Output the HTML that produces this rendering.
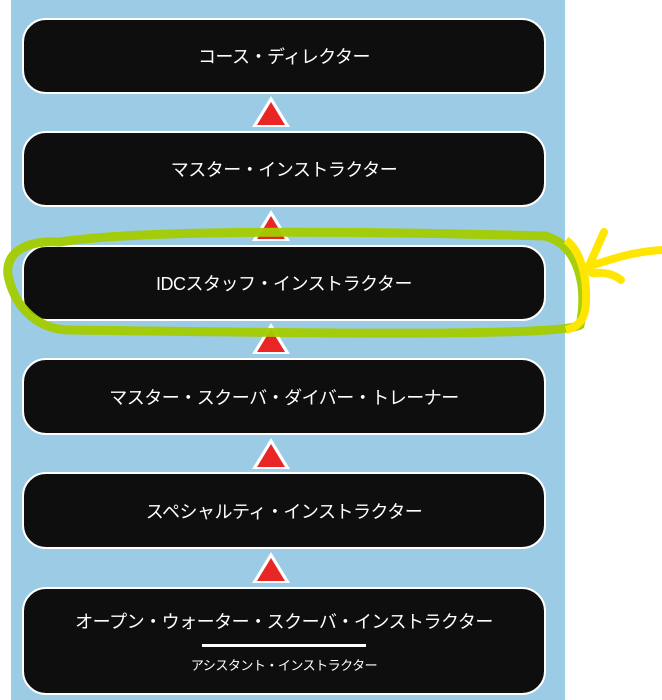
<!DOCTYPE html>
<html><head><meta charset="utf-8"><style>
body{margin:0;width:662px;height:700px;background:#fff;position:relative;overflow:hidden;font-family:"Liberation Sans","Noto Sans CJK JP",sans-serif}
.panel{position:absolute;left:11px;top:0;width:554px;height:700px;background:#9ccbe5}
.box{position:absolute;left:22px;width:524px;background:#0e0e0e;border:2px solid #fff;border-radius:24px;color:#fff;font-size:18px;letter-spacing:-0.5px;display:flex;align-items:center;justify-content:center;box-sizing:border-box}
.tri{position:absolute;left:252px;width:0;height:0;border-left:19px solid transparent;border-right:19px solid transparent;border-bottom:31px solid #fff}
.tri:after{content:"";position:absolute;left:-14px;top:6px;border-left:14px solid transparent;border-right:14px solid transparent;border-bottom:23px solid #e82626}
</style></head><body>
<div class="panel"></div>
<div class="box" style="top:18px;height:76px">コース・ディレクター</div>
<div class="tri" style="top:96px"></div>
<div class="box" style="top:131px;height:76px">マスター・インストラクター</div>
<div class="tri" style="top:210px"></div>
<div class="box" style="top:245px;height:76px">IDCスタッフ・インストラクター</div>
<div class="tri" style="top:323px"></div>
<div class="box" style="top:358px;height:77px">マスター・スクーバ・ダイバー・トレーナー</div>
<div class="tri" style="top:438px"></div>
<div class="box" style="top:472px;height:77px">スペシャルティ・インストラクター</div>
<div class="tri" style="top:552px"></div>
<div class="box" style="top:587px;height:108px;flex-direction:column">
<div style="font-size:18px">オープン・ウォーター・スクーバ・インストラクター</div>
<div style="width:164px;height:3px;background:#fff;margin:10px 0 8px"></div>
<div style="font-size:13px">アシスタント・インストラクター</div>
</div>
<svg style="position:absolute;left:0;top:0" width="662" height="700">
<path d="M60 242 C150 228,400 232,545 236 C580 245,588 290,580 325 C560 337,300 333,70 330 C40 330,15 310,8 275 C5 250,30 240,60 242 Z" fill="none" stroke="#a3cc00" stroke-width="9" opacity="0.95"/>
<path d="M566 240 C580 250,587 275,586 300 C586 318,580 326,566 330" fill="none" stroke="#ffe600" stroke-width="8"/>
<g stroke="#ffe600" stroke-width="8" fill="none" stroke-linecap="round">
<path d="M604 232 L588 268"/>
<path d="M662 250 C630 252,610 260,590 266"/>
<path d="M592 273 C605 272,615 275,621 280"/>
</g>
</svg>
</body></html>
